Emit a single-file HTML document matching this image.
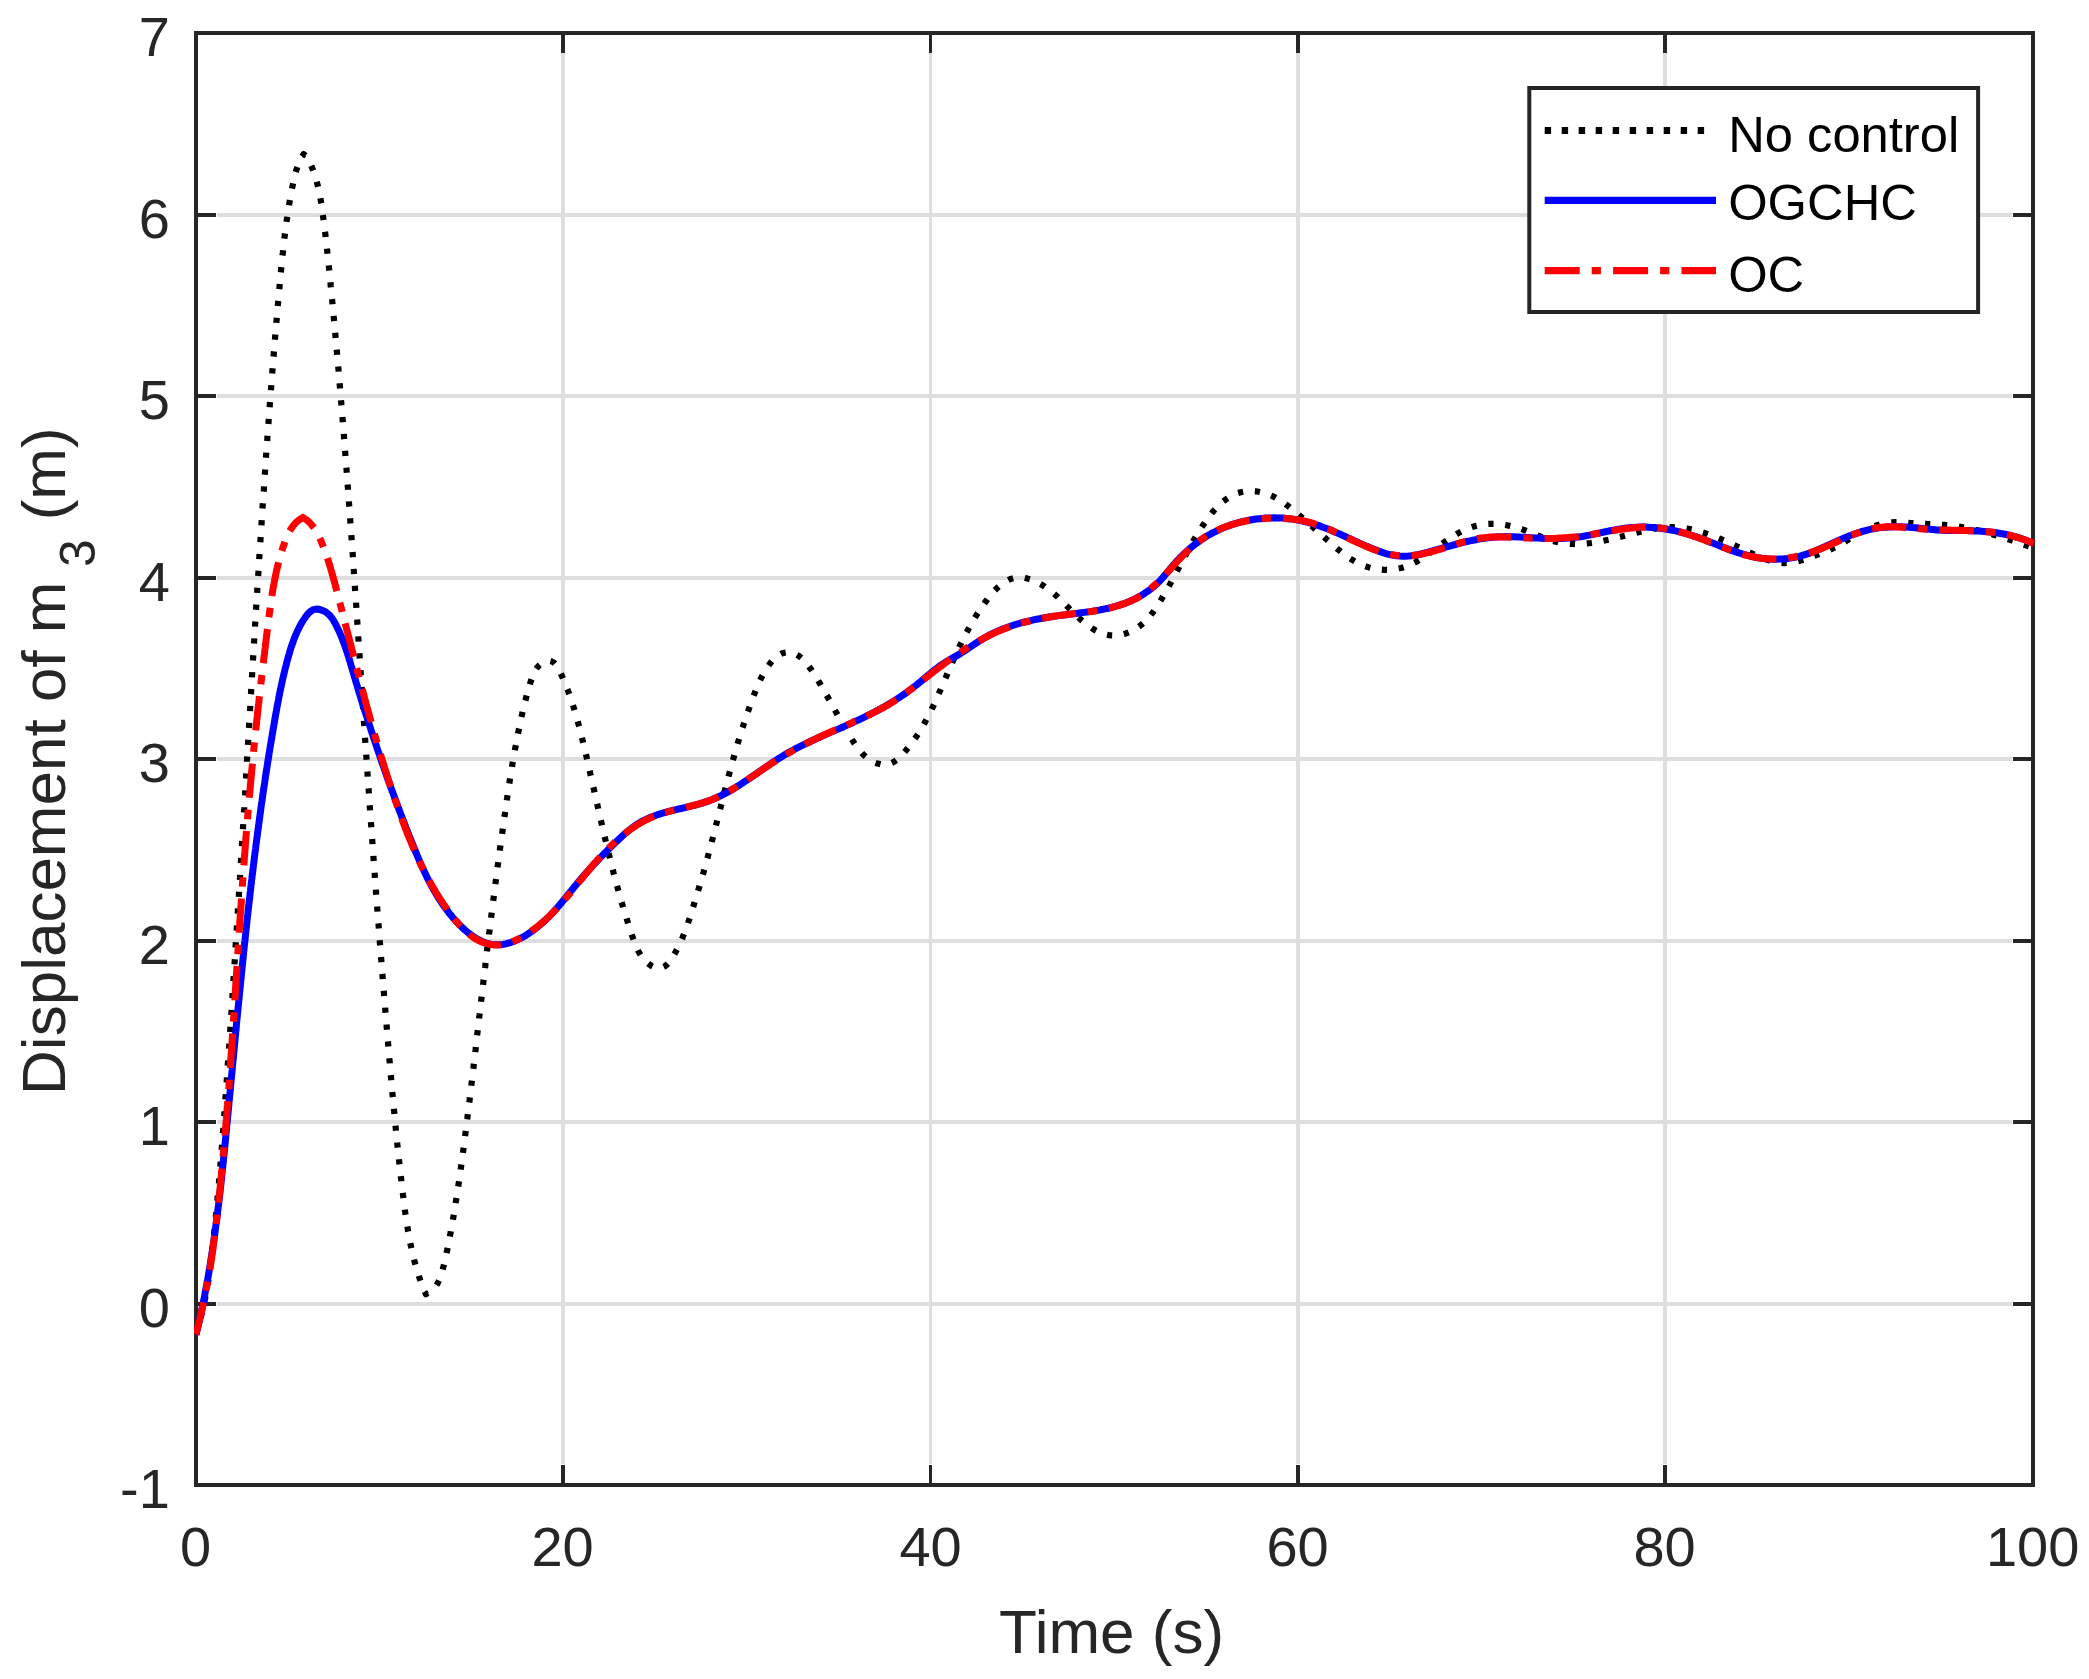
<!DOCTYPE html>
<html><head><meta charset="utf-8"><title>Displacement of m3</title>
<style>html,body{margin:0;padding:0;background:#fff}body{width:2089px;height:1679px;overflow:hidden}</style></head>
<body>
<svg width="2089" height="1679" viewBox="0 0 2089 1679" style="display:block">
<rect width="2089" height="1679" fill="#fff"/>
<defs><clipPath id="ax"><rect x="194" y="31" width="1841" height="1456"/></clipPath></defs>
<g fill="#dedede" shape-rendering="crispEdges">
<rect x="561" y="53" width="4" height="1411"/>
<rect x="929" y="53" width="3" height="1411"/>
<rect x="1296" y="53" width="4" height="1411"/>
<rect x="1663" y="53" width="4" height="1411"/>
<rect x="217" y="213" width="1795" height="4"/>
<rect x="217" y="394" width="1795" height="4"/>
<rect x="217" y="576" width="1795" height="4"/>
<rect x="217" y="757" width="1795" height="4"/>
<rect x="217" y="939" width="1795" height="4"/>
<rect x="217" y="1120" width="1795" height="4"/>
<rect x="217" y="1302" width="1795" height="4"/>
</g>
<g fill="#262626" shape-rendering="crispEdges">
<rect x="194" y="31" width="1841" height="4"/><rect x="194" y="1483" width="1841" height="4"/>
<rect x="194" y="31" width="4" height="1456"/><rect x="2031" y="31" width="4" height="1456"/>
<rect x="561" y="1465" width="4" height="18"/><rect x="561" y="35" width="4" height="18"/>
<rect x="929" y="1465" width="3" height="18"/><rect x="929" y="35" width="3" height="18"/>
<rect x="1296" y="1465" width="4" height="18"/><rect x="1296" y="35" width="4" height="18"/>
<rect x="1663" y="1465" width="4" height="18"/><rect x="1663" y="35" width="4" height="18"/>
<rect x="198" y="213" width="18" height="4"/><rect x="2013" y="213" width="18" height="4"/>
<rect x="198" y="394" width="18" height="4"/><rect x="2013" y="394" width="18" height="4"/>
<rect x="198" y="576" width="18" height="4"/><rect x="2013" y="576" width="18" height="4"/>
<rect x="198" y="757" width="18" height="4"/><rect x="2013" y="757" width="18" height="4"/>
<rect x="198" y="939" width="18" height="4"/><rect x="2013" y="939" width="18" height="4"/>
<rect x="198" y="1120" width="18" height="4"/><rect x="2013" y="1120" width="18" height="4"/>
<rect x="198" y="1302" width="18" height="4"/><rect x="2013" y="1302" width="18" height="4"/>
</g>
<g fill="#262626" font-family="'Liberation Sans', Arial, Helvetica, sans-serif" font-size="56px">
<text x="169.8" y="55.5" text-anchor="end">7</text>
<text x="169.8" y="237.5" text-anchor="end">6</text>
<text x="169.8" y="418.5" text-anchor="end">5</text>
<text x="169.8" y="600.5" text-anchor="end">4</text>
<text x="169.8" y="781.5" text-anchor="end">3</text>
<text x="169.8" y="963.5" text-anchor="end">2</text>
<text x="169.8" y="1144.5" text-anchor="end">1</text>
<text x="169.8" y="1326.5" text-anchor="end">0</text>
<text x="169.8" y="1507.5" text-anchor="end">-1</text>
<text x="195.6" y="1566" text-anchor="middle">0</text>
<text x="562.6" y="1566" text-anchor="middle">20</text>
<text x="930.6" y="1566" text-anchor="middle">40</text>
<text x="1297.6" y="1566" text-anchor="middle">60</text>
<text x="1664.6" y="1566" text-anchor="middle">80</text>
<text x="2032.6" y="1566" text-anchor="middle">100</text>
</g>
<g fill="#262626" font-family="'Liberation Sans', Arial, Helvetica, sans-serif" font-size="62px">
<text x="1111.6" y="1652.8" text-anchor="middle">Time (s)</text>
<text transform="translate(64.6,1094.9) rotate(-90)">Displacement of m</text>
<text transform="translate(94.9,567) rotate(-90)" font-size="49.6px">3</text>
<text transform="translate(64.6,520.3) rotate(-90)">(m)</text>
</g>
<g clip-path="url(#ax)" fill="none" stroke-linejoin="round">
<path d="M195.7,1334.6 L196.6,1331.7 L197.5,1328.8 L198.4,1325.9 L199.2,1323.0 L200.0,1320.1 L200.8,1317.2 L201.5,1314.3 L202.2,1311.4 L202.9,1308.4 L203.6,1305.5 L204.2,1302.6 L204.9,1299.6 L205.4,1296.7 L206.0,1293.8 L206.6,1290.8 L207.1,1287.8 L207.6,1284.9 L208.1,1281.9 L208.6,1279.0 L209.0,1276.0 L209.4,1273.0 L209.9,1270.0 L210.3,1267.1 L210.7,1264.1 L211.1,1261.1 L211.4,1258.1 L211.8,1255.1 L212.1,1252.1 L212.5,1249.2 L212.8,1246.2 L213.1,1243.2 L213.5,1240.2 L213.8,1237.2 L214.1,1234.2 L214.4,1231.2 L214.7,1228.2 L215.0,1225.2 L215.3,1222.2 L215.6,1219.2 L215.9,1216.2 L216.1,1213.2 L216.4,1210.2 L216.7,1207.2 L217.0,1204.2 L217.3,1201.2 L217.5,1198.2 L217.8,1195.2 L218.1,1192.3 L218.3,1189.3 L218.6,1186.3 L218.9,1183.3 L219.1,1180.3 L219.4,1177.3 L219.6,1174.3 L219.9,1171.3 L220.1,1168.3 L220.4,1165.3 L220.6,1162.3 L220.9,1159.3 L221.1,1156.3 L221.4,1153.3 L221.6,1150.3 L221.8,1147.3 L222.1,1144.3 L222.3,1141.3 L222.5,1138.3 L222.8,1135.3 L223.0,1132.3 L223.2,1129.3 L223.5,1126.3 L223.7,1123.3 L223.9,1120.3 L224.1,1117.3 L224.3,1114.3 L224.6,1111.3 L224.8,1108.3 L225.0,1105.3 L225.2,1102.3 L225.4,1099.3 L225.6,1096.3 L225.9,1093.3 L226.1,1090.3 L226.3,1087.3 L226.5,1084.3 L226.7,1081.3 L226.9,1078.3 L227.1,1075.3 L227.3,1072.3 L227.5,1069.3 L227.7,1066.3 L227.9,1063.3 L228.1,1060.3 L228.3,1057.3 L228.6,1054.3 L228.8,1051.3 L229.0,1048.3 L229.2,1045.3 L229.4,1042.3 L229.6,1039.3 L229.8,1036.3 L230.0,1033.3 L230.2,1030.3 L230.4,1027.3 L230.6,1024.3 L230.8,1021.3 L231.0,1018.3 L231.2,1015.3 L231.4,1012.3 L231.6,1009.3 L231.8,1006.3 L232.0,1003.3 L232.2,1000.3 L232.4,997.3 L232.6,994.3 L232.7,991.3 L232.9,988.3 L233.1,985.3 L233.3,982.3 L233.5,979.3 L233.7,976.3 L233.9,973.3 L234.1,970.3 L234.3,967.3 L234.5,964.3 L234.7,961.3 L234.9,958.3 L235.1,955.3 L235.3,952.3 L235.5,949.3 L235.6,946.3 L235.8,943.3 L236.0,940.3 L236.2,937.3 L236.4,934.3 L236.6,931.3 L236.8,928.3 L237.0,925.3 L237.2,922.3 L237.4,919.3 L237.5,916.3 L237.7,913.3 L237.9,910.3 L238.1,907.3 L238.3,904.3 L238.5,901.3 L238.7,898.3 L238.9,895.3 L239.0,892.3 L239.2,889.3 L239.4,886.2 L239.6,883.2 L239.8,880.2 L240.0,877.2 L240.1,874.2 L240.3,871.2 L240.5,868.2 L240.7,865.2 L240.9,862.2 L241.1,859.2 L241.3,856.2 L241.4,853.2 L241.6,850.2 L241.8,847.2 L242.0,844.2 L242.2,841.2 L242.4,838.2 L242.5,835.2 L242.7,832.2 L242.9,829.2 L243.1,826.2 L243.3,823.2 L243.4,820.2 L243.6,817.2 L243.8,814.2 L244.0,811.2 L244.2,808.2 L244.3,805.2 L244.5,802.2 L244.7,799.2 L244.9,796.2 L245.1,793.2 L245.2,790.2 L245.4,787.2 L245.6,784.2 L245.8,781.2 L246.0,778.2 L246.1,775.2 L246.3,772.2 L246.5,769.2 L246.7,766.2 L246.9,763.2 L247.0,760.2 L247.2,757.2 L247.4,754.2 L247.6,751.2 L247.8,748.2 L247.9,745.2 L248.1,742.2 L248.3,739.2 L248.5,736.2 L248.6,733.1 L248.8,730.1 L249.0,727.1 L249.2,724.1 L249.4,721.1 L249.5,718.1 L249.7,715.1 L249.9,712.1 L250.1,709.1 L250.3,706.1 L250.4,703.1 L250.6,700.1 L250.8,697.1 L251.0,694.1 L251.1,691.1 L251.3,688.1 L251.5,685.1 L251.7,682.1 L251.9,679.1 L252.0,676.1 L252.2,673.1 L252.4,670.1 L252.6,667.1 L252.8,664.1 L252.9,661.1 L253.1,658.1 L253.3,655.1 L253.5,652.1 L253.7,649.1 L253.8,646.1 L254.0,643.1 L254.2,640.1 L254.4,637.1 L254.6,634.1 L254.8,631.1 L254.9,628.0 L255.1,625.0 L255.3,622.0 L255.5,619.0 L255.7,616.0 L255.9,613.0 L256.0,610.0 L256.2,607.0 L256.4,604.0 L256.6,601.0 L256.8,598.0 L257.0,595.0 L257.2,592.0 L257.3,589.0 L257.5,586.0 L257.7,583.0 L257.9,580.0 L258.1,577.0 L258.3,574.0 L258.5,571.0 L258.7,568.0 L258.8,565.0 L259.0,562.0 L259.2,559.0 L259.4,556.0 L259.6,553.0 L259.8,550.0 L260.0,547.0 L260.2,544.0 L260.4,541.0 L260.6,538.0 L260.8,535.0 L261.0,532.0 L261.2,529.0 L261.4,526.0 L261.6,523.0 L261.7,520.0 L261.9,517.0 L262.1,514.0 L262.3,511.0 L262.5,508.0 L262.7,505.0 L262.9,502.0 L263.1,499.0 L263.3,496.0 L263.5,493.0 L263.8,490.0 L264.0,487.0 L264.2,484.0 L264.4,481.0 L264.6,478.0 L264.8,475.0 L265.0,472.0 L265.2,469.0 L265.4,466.0 L265.6,463.0 L265.8,460.0 L266.0,457.0 L266.2,454.0 L266.4,451.0 L266.7,448.0 L266.9,445.0 L267.1,442.0 L267.3,439.0 L267.5,436.0 L267.7,433.0 L268.0,430.0 L268.2,427.0 L268.4,424.0 L268.6,421.0 L268.8,418.0 L269.1,415.0 L269.3,412.0 L269.5,409.0 L269.7,406.0 L269.9,403.0 L270.2,400.0 L270.4,397.0 L270.6,394.0 L270.9,391.0 L271.1,388.0 L271.3,385.0 L271.5,382.1 L271.8,379.1 L272.0,376.1 L272.2,373.1 L272.5,370.1 L272.7,367.1 L273.0,364.1 L273.2,361.1 L273.4,358.1 L273.7,355.1 L273.9,352.1 L274.2,349.1 L274.4,346.1 L274.7,343.1 L274.9,340.1 L275.1,337.1 L275.4,334.1 L275.6,331.1 L275.9,328.1 L276.2,325.1 L276.4,322.1 L276.7,319.1 L276.9,316.1 L277.2,313.1 L277.4,310.1 L277.7,307.1 L278.0,304.1 L278.2,301.1 L278.5,298.1 L278.8,295.1 L279.0,292.1 L279.3,289.1 L279.6,286.1 L279.8,283.1 L280.1,280.1 L280.4,277.1 L280.7,274.1 L281.0,271.1 L281.2,268.1 L281.5,265.1 L281.8,262.1 L282.1,259.1 L282.4,256.1 L282.8,253.1 L283.1,250.1 L283.4,247.1 L283.7,244.1 L284.1,241.1 L284.4,238.1 L284.8,235.1 L285.2,232.1 L285.5,229.1 L285.9,226.2 L286.3,223.2 L286.7,220.2 L287.2,217.2 L287.6,214.3 L288.1,211.3 L288.5,208.3 L289.0,205.4 L289.5,202.4 L290.0,199.5 L290.5,196.5 L291.1,193.6 L291.6,190.6 L292.2,187.7 L292.8,184.8 L293.4,181.8 L294.0,178.9 L294.7,176.0 L295.4,173.1 L296.3,170.3 L297.2,167.5 L298.2,164.7 L299.3,162.0 L300.6,159.3 L302.0,156.7 L303.6,154.1 L306.7,156.6 L308.1,159.2 L309.5,161.9 L310.7,164.5 L311.9,167.3 L313.0,170.0 L314.0,172.8 L314.9,175.6 L315.8,178.4 L316.6,181.3 L317.4,184.1 L318.1,187.0 L318.8,190.0 L319.4,192.9 L319.9,195.8 L320.5,198.8 L321.0,201.8 L321.5,204.7 L321.9,207.7 L322.3,210.7 L322.7,213.7 L323.1,216.7 L323.5,219.7 L323.9,222.7 L324.3,225.7 L324.7,228.7 L325.0,231.7 L325.4,234.7 L325.7,237.7 L326.1,240.7 L326.4,243.7 L326.7,246.7 L327.1,249.7 L327.4,252.7 L327.7,255.7 L328.0,258.7 L328.3,261.7 L328.7,264.7 L329.0,267.7 L329.3,270.7 L329.6,273.7 L329.9,276.7 L330.2,279.7 L330.5,282.7 L330.7,285.7 L331.0,288.7 L331.3,291.7 L331.6,294.7 L331.9,297.7 L332.2,300.7 L332.5,303.7 L332.8,306.7 L333.0,309.7 L333.3,312.7 L333.6,315.7 L333.9,318.7 L334.2,321.6 L334.4,324.6 L334.7,327.6 L335.0,330.6 L335.3,333.6 L335.5,336.6 L335.8,339.6 L336.1,342.6 L336.3,345.6 L336.6,348.6 L336.9,351.6 L337.1,354.6 L337.4,357.6 L337.7,360.6 L337.9,363.6 L338.2,366.6 L338.5,369.6 L338.7,372.6 L339.0,375.6 L339.2,378.6 L339.5,381.6 L339.7,384.6 L340.0,387.6 L340.2,390.6 L340.5,393.6 L340.7,396.6 L341.0,399.6 L341.2,402.6 L341.5,405.6 L341.7,408.6 L342.0,411.6 L342.2,414.6 L342.5,417.6 L342.7,420.6 L343.0,423.6 L343.2,426.6 L343.4,429.6 L343.7,432.6 L343.9,435.6 L344.1,438.6 L344.4,441.6 L344.6,444.6 L344.8,447.6 L345.1,450.6 L345.3,453.6 L345.5,456.6 L345.8,459.6 L346.0,462.6 L346.2,465.6 L346.5,468.6 L346.7,471.6 L346.9,474.6 L347.1,477.6 L347.4,480.6 L347.6,483.6 L347.8,486.6 L348.0,489.6 L348.3,492.6 L348.5,495.6 L348.7,498.6 L348.9,501.6 L349.1,504.6 L349.4,507.6 L349.6,510.6 L349.8,513.7 L350.0,516.7 L350.2,519.7 L350.4,522.7 L350.6,525.7 L350.9,528.7 L351.1,531.7 L351.3,534.7 L351.5,537.7 L351.7,540.7 L351.9,543.7 L352.1,546.7 L352.3,549.7 L352.6,552.7 L352.8,555.7 L353.0,558.7 L353.2,561.7 L353.4,564.7 L353.6,567.7 L353.8,570.7 L354.0,573.7 L354.2,576.7 L354.4,579.7 L354.6,582.7 L354.8,585.7 L355.0,588.7 L355.2,591.7 L355.4,594.7 L355.7,597.7 L355.9,600.7 L356.1,603.7 L356.3,606.7 L356.5,609.7 L356.7,612.8 L356.9,615.8 L357.1,618.8 L357.3,621.8 L357.5,624.8 L357.7,627.8 L357.9,630.8 L358.1,633.8 L358.3,636.8 L358.5,639.8 L358.7,642.8 L358.9,645.8 L359.1,648.8 L359.3,651.8 L359.5,654.8 L359.7,657.8 L359.9,660.8 L360.1,663.8 L360.3,666.8 L360.5,669.8 L360.7,672.8 L360.9,675.8 L361.1,678.8 L361.3,681.8 L361.5,684.8 L361.7,687.8 L361.9,690.8 L362.1,693.9 L362.3,696.9 L362.5,699.9 L362.7,702.9 L362.9,705.9 L363.1,708.9 L363.3,711.9 L363.5,714.9 L363.7,717.9 L363.9,720.9 L364.1,723.9 L364.3,726.9 L364.5,729.9 L364.7,732.9 L364.9,735.9 L365.1,738.9 L365.3,741.9 L365.5,744.9 L365.7,747.9 L366.0,750.9 L366.2,753.9 L366.4,756.9 L366.6,759.9 L366.8,762.9 L367.0,765.9 L367.2,768.9 L367.4,772.0 L367.6,775.0 L367.8,778.0 L368.0,781.0 L368.2,784.0 L368.4,787.0 L368.7,790.0 L368.9,793.0 L369.1,796.0 L369.3,799.0 L369.5,802.0 L369.7,805.0 L369.9,808.0 L370.1,811.0 L370.3,814.0 L370.6,817.0 L370.8,820.0 L371.0,823.0 L371.2,826.0 L371.4,829.0 L371.6,832.0 L371.9,835.0 L372.1,838.0 L372.3,841.0 L372.5,844.0 L372.7,847.0 L372.9,850.0 L373.2,853.0 L373.4,856.0 L373.6,859.0 L373.8,862.0 L374.0,865.1 L374.3,868.1 L374.5,871.1 L374.7,874.1 L374.9,877.1 L375.1,880.1 L375.4,883.1 L375.6,886.1 L375.8,889.1 L376.0,892.1 L376.3,895.1 L376.5,898.1 L376.7,901.1 L376.9,904.1 L377.2,907.1 L377.4,910.1 L377.6,913.1 L377.9,916.1 L378.1,919.1 L378.3,922.1 L378.6,925.1 L378.8,928.1 L379.0,931.1 L379.2,934.1 L379.5,937.1 L379.7,940.1 L379.9,943.1 L380.2,946.1 L380.4,949.1 L380.6,952.1 L380.9,955.1 L381.1,958.1 L381.4,961.1 L381.6,964.1 L381.8,967.1 L382.1,970.1 L382.3,973.1 L382.6,976.1 L382.8,979.1 L383.0,982.1 L383.3,985.1 L383.5,988.1 L383.8,991.1 L384.0,994.1 L384.2,997.1 L384.5,1000.1 L384.7,1003.1 L385.0,1006.1 L385.2,1009.1 L385.5,1012.1 L385.7,1015.1 L386.0,1018.1 L386.2,1021.1 L386.5,1024.1 L386.7,1027.1 L387.0,1030.1 L387.2,1033.1 L387.5,1036.1 L387.7,1039.1 L388.0,1042.1 L388.2,1045.1 L388.5,1048.1 L388.7,1051.1 L389.0,1054.1 L389.2,1057.1 L389.5,1060.1 L389.8,1063.1 L390.0,1066.1 L390.3,1069.1 L390.5,1072.1 L390.8,1075.1 L391.1,1078.1 L391.3,1081.1 L391.6,1084.1 L391.9,1087.1 L392.1,1090.1 L392.4,1093.1 L392.7,1096.1 L393.0,1099.1 L393.2,1102.0 L393.5,1105.0 L393.8,1108.0 L394.1,1111.0 L394.4,1114.0 L394.7,1117.0 L394.9,1120.0 L395.2,1123.0 L395.5,1126.0 L395.8,1129.0 L396.1,1132.0 L396.4,1135.0 L396.7,1138.0 L397.0,1141.0 L397.3,1144.0 L397.6,1147.0 L398.0,1150.0 L398.3,1153.0 L398.6,1156.0 L398.9,1159.0 L399.2,1162.0 L399.6,1165.0 L399.9,1168.0 L400.2,1171.0 L400.6,1174.0 L400.9,1177.0 L401.3,1180.0 L401.6,1182.9 L402.0,1185.9 L402.3,1188.9 L402.7,1191.9 L403.0,1194.9 L403.4,1197.9 L403.8,1200.9 L404.2,1203.9 L404.5,1206.9 L404.9,1209.9 L405.3,1212.9 L405.8,1215.9 L406.2,1218.9 L406.6,1221.8 L407.1,1224.8 L407.6,1227.8 L408.0,1230.8 L408.6,1233.7 L409.1,1236.7 L409.6,1239.6 L410.2,1242.6 L410.8,1245.5 L411.4,1248.5 L412.1,1251.4 L412.8,1254.3 L413.5,1257.2 L414.2,1260.1 L415.0,1263.0 L415.8,1265.9 L416.6,1268.8 L417.5,1271.7 L418.4,1274.5 L419.3,1277.4 L420.3,1280.2 L421.3,1283.0 L422.4,1285.9 L423.5,1288.7 L424.7,1291.5 L425.9,1294.2 L429.1,1292.5 L431.6,1290.7 L433.8,1288.6 L435.7,1286.4 L437.3,1283.9 L438.6,1281.3 L439.8,1278.6 L440.9,1275.8 L441.8,1272.9 L442.6,1270.0 L443.3,1267.0 L444.1,1264.1 L444.8,1261.1 L445.4,1258.2 L446.1,1255.2 L446.7,1252.3 L447.4,1249.3 L448.0,1246.4 L448.6,1243.5 L449.1,1240.5 L449.7,1237.6 L450.2,1234.6 L450.8,1231.7 L451.3,1228.7 L451.9,1225.8 L452.4,1222.8 L452.9,1219.9 L453.4,1216.9 L453.9,1214.0 L454.4,1211.0 L454.9,1208.0 L455.4,1205.1 L455.8,1202.1 L456.3,1199.1 L456.8,1196.2 L457.2,1193.2 L457.7,1190.2 L458.1,1187.3 L458.6,1184.3 L459.0,1181.3 L459.4,1178.4 L459.8,1175.4 L460.3,1172.4 L460.7,1169.4 L461.1,1166.5 L461.5,1163.5 L461.9,1160.5 L462.3,1157.5 L462.7,1154.6 L463.1,1151.6 L463.5,1148.6 L463.9,1145.6 L464.3,1142.6 L464.6,1139.7 L465.0,1136.7 L465.4,1133.7 L465.8,1130.7 L466.2,1127.7 L466.5,1124.8 L466.9,1121.8 L467.3,1118.8 L467.6,1115.8 L468.0,1112.8 L468.4,1109.8 L468.7,1106.9 L469.1,1103.9 L469.5,1100.9 L469.8,1097.9 L470.2,1094.9 L470.5,1091.9 L470.9,1088.9 L471.3,1086.0 L471.6,1083.0 L472.0,1080.0 L472.3,1077.0 L472.7,1074.0 L473.0,1071.0 L473.4,1068.1 L473.7,1065.1 L474.1,1062.1 L474.4,1059.1 L474.8,1056.1 L475.1,1053.1 L475.5,1050.1 L475.8,1047.2 L476.1,1044.2 L476.5,1041.2 L476.8,1038.2 L477.2,1035.2 L477.5,1032.2 L477.9,1029.2 L478.2,1026.3 L478.6,1023.3 L478.9,1020.3 L479.2,1017.3 L479.6,1014.3 L479.9,1011.3 L480.3,1008.3 L480.6,1005.4 L481.0,1002.4 L481.3,999.4 L481.7,996.4 L482.0,993.4 L482.4,990.4 L482.7,987.5 L483.1,984.5 L483.4,981.5 L483.8,978.5 L484.1,975.5 L484.5,972.5 L484.8,969.6 L485.2,966.6 L485.5,963.6 L485.9,960.6 L486.2,957.6 L486.6,954.7 L486.9,951.7 L487.3,948.7 L487.7,945.7 L488.0,942.7 L488.4,939.8 L488.8,936.8 L489.1,933.8 L489.5,930.8 L489.9,927.8 L490.2,924.9 L490.6,921.9 L491.0,918.9 L491.3,915.9 L491.7,913.0 L492.1,910.0 L492.4,907.0 L492.8,904.0 L493.2,901.0 L493.6,898.1 L494.0,895.1 L494.3,892.1 L494.7,889.1 L495.1,886.1 L495.5,883.2 L495.9,880.2 L496.3,877.2 L496.7,874.2 L497.0,871.3 L497.4,868.3 L497.8,865.3 L498.2,862.3 L498.6,859.3 L499.0,856.4 L499.4,853.4 L499.8,850.4 L500.2,847.4 L500.6,844.4 L501.0,841.5 L501.4,838.5 L501.9,835.5 L502.3,832.5 L502.7,829.5 L503.1,826.6 L503.5,823.6 L503.9,820.6 L504.3,817.6 L504.8,814.6 L505.2,811.7 L505.6,808.7 L506.0,805.7 L506.5,802.7 L506.9,799.7 L507.3,796.8 L507.8,793.8 L508.2,790.8 L508.7,787.8 L509.1,784.8 L509.6,781.9 L510.0,778.9 L510.5,775.9 L511.0,773.0 L511.5,770.0 L512.0,767.0 L512.4,764.1 L512.9,761.1 L513.5,758.1 L514.0,755.2 L514.5,752.2 L515.0,749.3 L515.6,746.3 L516.1,743.4 L516.7,740.4 L517.2,737.5 L517.8,734.6 L518.4,731.7 L519.0,728.7 L519.6,725.8 L520.2,722.9 L520.8,720.0 L521.4,717.1 L522.1,714.2 L522.7,711.3 L523.4,708.4 L524.1,705.5 L524.8,702.6 L525.6,699.7 L526.3,696.8 L527.1,693.8 L527.9,690.9 L528.8,687.9 L529.7,684.9 L530.6,681.9 L531.6,678.9 L532.6,675.8 L533.9,672.9 L535.3,670.2 L537.1,667.6 L539.2,665.4 L541.6,663.4 L544.2,662.0 L546.9,661.1 L549.5,660.8 L551.8,661.4 L553.9,662.6 L555.7,664.5 L557.3,666.8 L558.8,669.4 L560.2,672.3 L561.5,675.1 L562.8,678.0 L564.0,680.8 L565.2,683.7 L566.3,686.6 L567.5,689.5 L568.5,692.3 L569.6,695.2 L570.6,698.1 L571.6,701.0 L572.5,703.9 L573.5,706.8 L574.4,709.7 L575.2,712.6 L576.1,715.4 L576.9,718.3 L577.7,721.2 L578.5,724.2 L579.3,727.1 L580.1,730.0 L580.8,732.9 L581.5,735.8 L582.2,738.7 L582.9,741.6 L583.6,744.5 L584.3,747.4 L585.0,750.3 L585.7,753.3 L586.4,756.2 L587.0,759.1 L587.7,762.0 L588.4,764.9 L589.0,767.9 L589.7,770.8 L590.3,773.7 L591.0,776.6 L591.7,779.5 L592.3,782.5 L593.0,785.4 L593.6,788.3 L594.3,791.2 L594.9,794.1 L595.6,797.1 L596.3,800.0 L596.9,802.9 L597.6,805.8 L598.2,808.8 L598.9,811.7 L599.6,814.6 L600.2,817.5 L600.9,820.4 L601.6,823.4 L602.2,826.3 L602.9,829.2 L603.6,832.1 L604.3,835.1 L605.0,838.0 L605.7,840.9 L606.4,843.8 L607.1,846.7 L607.8,849.7 L608.5,852.6 L609.2,855.5 L609.9,858.4 L610.7,861.3 L611.4,864.2 L612.1,867.1 L612.9,870.1 L613.6,873.0 L614.4,875.9 L615.2,878.8 L616.0,881.7 L616.7,884.6 L617.5,887.5 L618.3,890.4 L619.2,893.3 L620.0,896.2 L620.8,899.1 L621.6,902.1 L622.5,905.0 L623.3,907.9 L624.2,910.7 L625.1,913.6 L626.0,916.5 L626.9,919.4 L627.8,922.3 L628.7,925.2 L629.6,928.1 L630.6,931.0 L631.5,933.9 L632.5,936.8 L633.5,939.6 L634.5,942.5 L635.7,945.3 L636.8,948.0 L638.1,950.7 L639.6,953.3 L641.1,955.8 L642.9,958.2 L644.8,960.4 L646.9,962.5 L649.3,964.4 L651.8,966.1 L654.5,967.4 L657.2,968.1 L659.9,968.1 L662.4,967.5 L664.8,966.3 L667.0,964.5 L669.1,962.3 L671.0,959.7 L672.8,957.0 L674.4,954.1 L676.0,951.3 L677.5,948.4 L678.9,945.6 L680.2,942.8 L681.5,940.0 L682.7,937.2 L683.8,934.4 L684.9,931.6 L686.0,928.8 L687.0,926.0 L688.0,923.2 L688.9,920.4 L689.8,917.6 L690.7,914.8 L691.6,912.0 L692.5,909.1 L693.4,906.3 L694.2,903.5 L695.1,900.6 L696.0,897.8 L696.9,894.9 L697.7,892.0 L698.6,889.1 L699.5,886.3 L700.3,883.4 L701.2,880.5 L702.0,877.6 L702.8,874.7 L703.7,871.8 L704.5,868.9 L705.3,866.0 L706.1,863.1 L706.9,860.2 L707.7,857.3 L708.5,854.3 L709.2,851.4 L710.0,848.5 L710.8,845.6 L711.5,842.7 L712.3,839.8 L713.1,836.9 L713.8,834.0 L714.6,831.0 L715.3,828.1 L716.0,825.2 L716.8,822.3 L717.5,819.4 L718.3,816.5 L719.0,813.6 L719.7,810.6 L720.5,807.7 L721.2,804.8 L722.0,801.9 L722.7,799.0 L723.4,796.1 L724.2,793.2 L724.9,790.3 L725.7,787.3 L726.4,784.4 L727.2,781.5 L728.0,778.6 L728.7,775.7 L729.5,772.8 L730.3,769.9 L731.1,767.0 L731.8,764.1 L732.6,761.2 L733.4,758.4 L734.3,755.5 L735.1,752.6 L735.9,749.7 L736.7,746.8 L737.6,743.9 L738.4,741.1 L739.3,738.2 L740.2,735.3 L741.0,732.5 L741.9,729.6 L742.9,726.8 L743.8,723.9 L744.7,721.1 L745.6,718.2 L746.6,715.4 L747.6,712.5 L748.6,709.7 L749.6,706.9 L750.6,704.0 L751.6,701.2 L752.6,698.4 L753.7,695.6 L754.8,692.8 L755.9,690.0 L757.0,687.2 L758.2,684.4 L759.4,681.7 L760.7,678.9 L762.1,676.2 L763.5,673.6 L765.0,670.9 L766.7,668.3 L768.4,665.8 L770.2,663.2 L772.2,660.8 L774.3,658.6 L776.6,656.6 L779.0,654.9 L781.6,653.5 L784.3,652.7 L787.2,652.3 L790.1,652.4 L792.9,653.1 L795.7,654.1 L798.3,655.6 L800.7,657.4 L803.0,659.4 L805.1,661.7 L807.1,664.1 L809.0,666.6 L810.8,669.1 L812.5,671.6 L814.2,674.1 L815.7,676.6 L817.3,679.2 L818.8,681.7 L820.4,684.3 L821.9,686.9 L823.4,689.6 L824.9,692.2 L826.4,694.8 L827.9,697.4 L829.4,700.0 L830.8,702.6 L832.2,705.2 L833.7,707.8 L835.1,710.4 L836.5,713.0 L837.9,715.6 L839.4,718.2 L840.8,720.7 L842.3,723.3 L843.8,725.9 L845.3,728.5 L846.8,731.1 L848.3,733.7 L849.9,736.3 L851.6,738.9 L853.2,741.5 L854.9,744.1 L856.7,746.6 L858.6,749.1 L860.5,751.5 L862.5,753.8 L864.7,755.9 L867.0,757.9 L869.4,759.7 L872.0,761.2 L874.8,762.6 L877.7,763.6 L880.7,764.4 L883.7,764.7 L886.6,764.6 L889.3,764.0 L891.9,762.9 L894.4,761.6 L896.7,759.9 L899.0,758.0 L901.1,755.9 L903.2,753.6 L905.2,751.4 L907.1,749.0 L909.1,746.7 L910.9,744.3 L912.7,741.8 L914.4,739.3 L916.2,736.8 L917.8,734.3 L919.4,731.8 L921.0,729.2 L922.5,726.6 L924.0,724.0 L925.5,721.3 L926.9,718.6 L928.3,716.0 L929.7,713.3 L931.1,710.5 L932.4,707.8 L933.7,705.1 L935.0,702.3 L936.2,699.6 L937.5,696.8 L938.7,694.0 L939.9,691.3 L941.1,688.5 L942.3,685.7 L943.5,683.0 L944.6,680.2 L945.8,677.5 L947.0,674.7 L948.2,672.0 L949.3,669.2 L950.5,666.5 L951.7,663.8 L952.9,661.1 L954.1,658.4 L955.3,655.7 L956.5,653.0 L957.8,650.3 L959.0,647.6 L960.3,644.9 L961.6,642.3 L962.9,639.6 L964.2,636.9 L965.6,634.3 L967.0,631.7 L968.4,629.0 L969.8,626.4 L971.3,623.8 L972.8,621.1 L974.4,618.5 L976.0,615.9 L977.6,613.3 L979.3,610.8 L981.0,608.2 L982.8,605.6 L984.6,603.0 L986.5,600.5 L988.4,597.9 L990.3,595.5 L992.4,593.1 L994.4,590.7 L996.6,588.5 L998.8,586.5 L1001.1,584.6 L1003.4,582.8 L1005.8,581.3 L1008.3,580.0 L1010.8,578.9 L1013.4,578.1 L1016.2,577.6 L1018.9,577.4 L1021.8,577.5 L1024.7,577.9 L1027.7,578.6 L1030.7,579.5 L1033.6,580.7 L1036.5,582.0 L1039.4,583.5 L1042.1,585.0 L1044.7,586.6 L1047.2,588.4 L1049.6,590.1 L1051.9,592.0 L1054.2,593.9 L1056.4,595.8 L1058.5,597.8 L1060.7,599.8 L1062.7,601.9 L1064.8,604.0 L1066.9,606.1 L1068.9,608.2 L1071.0,610.3 L1073.2,612.4 L1075.3,614.6 L1077.5,616.7 L1079.8,618.8 L1082.2,620.9 L1084.6,622.9 L1087.0,624.8 L1089.6,626.7 L1092.2,628.4 L1094.8,630.0 L1097.5,631.4 L1100.2,632.7 L1103.0,633.7 L1105.8,634.5 L1108.7,635.1 L1111.5,635.4 L1114.4,635.5 L1117.4,635.3 L1120.3,634.9 L1123.1,634.2 L1126.0,633.4 L1128.8,632.3 L1131.5,631.1 L1134.2,629.7 L1136.8,628.1 L1139.2,626.4 L1141.6,624.6 L1143.9,622.6 L1146.0,620.5 L1148.1,618.2 L1150.1,615.9 L1151.9,613.6 L1153.8,611.1 L1155.5,608.6 L1157.2,606.0 L1158.9,603.5 L1160.5,600.8 L1162.0,598.2 L1163.6,595.6 L1165.1,593.0 L1166.6,590.4 L1168.0,587.7 L1169.5,585.1 L1170.9,582.5 L1172.3,579.9 L1173.7,577.3 L1175.1,574.6 L1176.5,572.0 L1177.9,569.4 L1179.3,566.8 L1180.6,564.1 L1182.0,561.5 L1183.4,558.9 L1184.8,556.3 L1186.2,553.7 L1187.6,551.0 L1189.1,548.4 L1190.5,545.8 L1192.0,543.2 L1193.5,540.6 L1195.0,538.0 L1196.6,535.4 L1198.1,532.9 L1199.7,530.3 L1201.4,527.7 L1203.1,525.1 L1204.8,522.6 L1206.6,520.0 L1208.4,517.5 L1210.3,515.0 L1212.2,512.6 L1214.2,510.3 L1216.2,508.0 L1218.3,505.8 L1220.5,503.7 L1222.7,501.8 L1225.1,500.0 L1227.5,498.3 L1229.9,496.7 L1232.5,495.4 L1235.1,494.2 L1237.9,493.1 L1240.7,492.3 L1243.6,491.7 L1246.6,491.3 L1249.6,491.1 L1252.7,491.1 L1255.7,491.3 L1258.7,491.7 L1261.7,492.3 L1264.6,493.0 L1267.4,494.0 L1270.1,495.1 L1272.9,496.3 L1275.5,497.7 L1278.1,499.2 L1280.7,500.8 L1283.2,502.5 L1285.7,504.3 L1288.2,506.1 L1290.6,508.0 L1292.9,509.9 L1295.3,511.9 L1297.6,513.8 L1299.9,515.8 L1302.2,517.8 L1304.4,519.7 L1306.7,521.7 L1308.9,523.6 L1311.1,525.6 L1313.3,527.5 L1315.6,529.5 L1317.8,531.5 L1320.0,533.4 L1322.2,535.4 L1324.4,537.4 L1326.6,539.4 L1328.9,541.4 L1331.1,543.4 L1333.4,545.4 L1335.7,547.4 L1338.0,549.4 L1340.4,551.3 L1342.7,553.2 L1345.2,555.0 L1347.6,556.8 L1350.1,558.5 L1352.7,560.1 L1355.2,561.6 L1357.9,563.0 L1360.6,564.3 L1363.3,565.5 L1366.1,566.5 L1369.0,567.4 L1371.9,568.2 L1374.9,568.8 L1377.9,569.3 L1381.0,569.6 L1384.0,569.8 L1387.1,569.9 L1390.1,569.7 L1393.1,569.5 L1396.1,569.1 L1399.0,568.5 L1401.9,567.8 L1404.7,566.9 L1407.5,565.9 L1410.2,564.8 L1412.8,563.5 L1415.4,562.2 L1418.0,560.7 L1420.5,559.2 L1423.0,557.6 L1425.5,555.9 L1428.0,554.2 L1430.4,552.4 L1432.9,550.6 L1435.4,548.8 L1437.8,547.0 L1440.3,545.1 L1442.8,543.3 L1445.3,541.5 L1447.8,539.8 L1450.4,538.0 L1453.0,536.4 L1455.6,534.8 L1458.2,533.2 L1460.9,531.8 L1463.6,530.4 L1466.3,529.2 L1469.0,528.1 L1471.8,527.1 L1474.6,526.2 L1477.4,525.5 L1480.3,524.9 L1483.2,524.4 L1486.1,524.1 L1489.0,523.9 L1492.0,523.9 L1494.9,523.9 L1497.9,524.1 L1500.9,524.4 L1503.8,524.8 L1506.8,525.3 L1509.8,525.9 L1512.7,526.5 L1515.7,527.3 L1518.6,528.2 L1521.6,529.1 L1524.5,530.1 L1527.3,531.2 L1530.2,532.3 L1533.1,533.4 L1535.9,534.6 L1538.7,535.8 L1541.6,536.9 L1544.4,538.0 L1547.2,539.1 L1550.1,540.0 L1552.9,540.9 L1555.8,541.7 L1558.6,542.4 L1561.5,542.9 L1564.4,543.4 L1567.3,543.7 L1570.3,543.9 L1573.2,544.0 L1576.1,544.1 L1579.1,544.0 L1582.0,543.9 L1585.0,543.6 L1587.9,543.3 L1590.9,543.0 L1593.9,542.6 L1596.9,542.1 L1599.9,541.5 L1602.8,541.0 L1605.8,540.3 L1608.8,539.7 L1611.8,539.0 L1614.8,538.3 L1617.8,537.5 L1620.7,536.8 L1623.7,536.0 L1626.7,535.2 L1629.6,534.5 L1632.6,533.7 L1635.5,533.0 L1638.5,532.2 L1641.4,531.5 L1644.3,530.8 L1647.2,530.2 L1650.1,529.6 L1653.0,529.0 L1655.9,528.5 L1658.8,528.1 L1661.7,527.7 L1664.7,527.5 L1667.6,527.3 L1670.5,527.2 L1673.5,527.2 L1676.4,527.3 L1679.4,527.6 L1682.4,527.9 L1685.3,528.3 L1688.3,528.8 L1691.3,529.4 L1694.2,530.1 L1697.1,530.8 L1700.1,531.6 L1703.0,532.5 L1705.8,533.4 L1708.7,534.4 L1711.5,535.4 L1714.3,536.5 L1717.1,537.6 L1719.8,538.7 L1722.6,539.9 L1725.3,541.1 L1728.0,542.3 L1730.8,543.5 L1733.5,544.8 L1736.2,546.1 L1738.9,547.3 L1741.6,548.6 L1744.3,549.9 L1747.1,551.2 L1749.8,552.5 L1752.6,553.8 L1755.4,555.0 L1758.2,556.3 L1761.0,557.5 L1763.8,558.6 L1766.6,559.6 L1769.5,560.5 L1772.4,561.4 L1775.2,562.0 L1778.1,562.6 L1781.1,562.9 L1784.0,563.1 L1786.9,563.0 L1789.9,562.8 L1792.8,562.4 L1795.8,561.8 L1798.7,561.1 L1801.7,560.3 L1804.6,559.4 L1807.5,558.4 L1810.4,557.3 L1813.3,556.3 L1816.2,555.2 L1819.0,554.1 L1821.8,553.0 L1824.6,551.9 L1827.3,550.8 L1830.0,549.7 L1832.7,548.4 L1835.4,547.1 L1838.0,545.7 L1840.6,544.2 L1843.2,542.7 L1845.8,541.2 L1848.4,539.6 L1850.9,538.0 L1853.5,536.4 L1856.1,534.9 L1858.8,533.3 L1861.4,531.9 L1864.1,530.5 L1866.8,529.2 L1869.6,528.0 L1872.3,526.9 L1875.2,525.9 L1878.0,525.0 L1880.8,524.2 L1883.7,523.5 L1886.7,522.9 L1889.6,522.5 L1892.5,522.3 L1895.5,522.1 L1898.5,522.1 L1901.5,522.3 L1904.6,522.5 L1907.6,522.7 L1910.6,523.0 L1913.7,523.2 L1916.7,523.5 L1919.7,523.6 L1922.7,523.8 L1925.7,523.9 L1928.7,524.1 L1931.8,524.2 L1934.8,524.3 L1937.8,524.5 L1940.7,524.7 L1943.7,524.9 L1946.7,525.1 L1949.7,525.4 L1952.7,525.8 L1955.6,526.2 L1958.6,526.6 L1961.5,527.1 L1964.5,527.6 L1967.4,528.2 L1970.4,528.8 L1973.3,529.4 L1976.2,530.1 L1979.2,530.8 L1982.1,531.5 L1985.0,532.2 L1987.9,533.0 L1990.8,533.8 L1993.7,534.7 L1996.6,535.5 L1999.5,536.4 L2002.3,537.3 L2005.2,538.2 L2008.1,539.2 L2010.9,540.1 L2013.8,541.1 L2016.6,542.0 L2019.5,543.0 L2022.3,544.0 L2025.1,545.0 L2028.0,546.0 L2030.8,547.0 L2033.6,548.0" stroke="#000" stroke-width="6.2" stroke-dasharray="5.2 11.72" stroke-dashoffset="16.28"/>
<path d="M196.1,1334.6 L196.8,1331.7 L197.5,1328.8 L198.2,1325.9 L198.9,1322.9 L199.5,1320.0 L200.2,1317.0 L200.8,1314.1 L201.5,1311.2 L202.1,1308.2 L202.7,1305.3 L203.3,1302.3 L203.9,1299.4 L204.5,1296.4 L205.0,1293.5 L205.6,1290.5 L206.1,1287.6 L206.7,1284.6 L207.2,1281.7 L207.8,1278.7 L208.3,1275.8 L208.8,1272.8 L209.3,1269.8 L209.8,1266.9 L210.3,1263.9 L210.7,1260.9 L211.2,1258.0 L211.7,1255.0 L212.1,1252.0 L212.6,1249.1 L213.0,1246.1 L213.5,1243.1 L213.9,1240.2 L214.3,1237.2 L214.7,1234.2 L215.1,1231.2 L215.5,1228.3 L215.9,1225.3 L216.3,1222.3 L216.7,1219.3 L217.1,1216.4 L217.5,1213.4 L217.8,1210.4 L218.2,1207.4 L218.6,1204.4 L218.9,1201.4 L219.3,1198.5 L219.6,1195.5 L220.0,1192.5 L220.3,1189.5 L220.6,1186.5 L221.0,1183.5 L221.3,1180.5 L221.6,1177.6 L221.9,1174.6 L222.2,1171.6 L222.6,1168.6 L222.9,1165.6 L223.2,1162.6 L223.5,1159.6 L223.8,1156.6 L224.1,1153.6 L224.4,1150.6 L224.7,1147.7 L225.0,1144.7 L225.3,1141.7 L225.6,1138.7 L225.9,1135.7 L226.2,1132.7 L226.5,1129.7 L226.7,1126.7 L227.0,1123.7 L227.3,1120.7 L227.6,1117.7 L227.9,1114.7 L228.2,1111.7 L228.5,1108.7 L228.8,1105.7 L229.0,1102.8 L229.3,1099.8 L229.6,1096.8 L229.9,1093.8 L230.2,1090.8 L230.5,1087.8 L230.7,1084.8 L231.0,1081.8 L231.3,1078.8 L231.6,1075.8 L231.9,1072.8 L232.2,1069.8 L232.4,1066.8 L232.7,1063.8 L233.0,1060.8 L233.3,1057.8 L233.6,1054.8 L233.9,1051.9 L234.2,1048.9 L234.4,1045.9 L234.7,1042.9 L235.0,1039.9 L235.3,1036.9 L235.6,1033.9 L235.9,1030.9 L236.2,1027.9 L236.4,1024.9 L236.7,1021.9 L237.0,1018.9 L237.3,1015.9 L237.6,1012.9 L237.9,1009.9 L238.2,1007.0 L238.5,1004.0 L238.8,1001.0 L239.1,998.0 L239.4,995.0 L239.7,992.0 L240.0,989.0 L240.3,986.0 L240.6,983.0 L240.9,980.0 L241.2,977.0 L241.5,974.0 L241.8,971.0 L242.1,968.1 L242.4,965.1 L242.7,962.1 L243.0,959.1 L243.3,956.1 L243.6,953.1 L243.9,950.1 L244.2,947.1 L244.5,944.1 L244.9,941.1 L245.2,938.2 L245.5,935.2 L245.8,932.2 L246.1,929.2 L246.5,926.2 L246.8,923.2 L247.1,920.2 L247.4,917.2 L247.8,914.2 L248.1,911.3 L248.4,908.3 L248.8,905.3 L249.1,902.3 L249.5,899.3 L249.8,896.3 L250.1,893.3 L250.5,890.4 L250.8,887.4 L251.2,884.4 L251.5,881.4 L251.9,878.4 L252.2,875.4 L252.6,872.5 L253.0,869.5 L253.3,866.5 L253.7,863.5 L254.1,860.5 L254.4,857.5 L254.8,854.6 L255.2,851.6 L255.6,848.6 L255.9,845.6 L256.3,842.6 L256.7,839.7 L257.1,836.7 L257.5,833.7 L257.9,830.7 L258.3,827.7 L258.7,824.8 L259.1,821.8 L259.5,818.8 L259.9,815.8 L260.3,812.9 L260.7,809.9 L261.1,806.9 L261.5,803.9 L262.0,801.0 L262.4,798.0 L262.8,795.0 L263.2,792.0 L263.7,789.1 L264.1,786.1 L264.6,783.1 L265.0,780.2 L265.4,777.2 L265.9,774.2 L266.3,771.2 L266.8,768.3 L267.3,765.3 L267.7,762.3 L268.2,759.4 L268.7,756.4 L269.1,753.4 L269.6,750.5 L270.1,747.5 L270.6,744.5 L271.1,741.6 L271.6,738.6 L272.1,735.6 L272.6,732.7 L273.1,729.7 L273.6,726.8 L274.1,723.8 L274.6,720.8 L275.1,717.9 L275.6,714.9 L276.2,712.0 L276.7,709.0 L277.2,706.0 L277.8,703.1 L278.4,700.1 L278.9,697.2 L279.5,694.2 L280.1,691.3 L280.7,688.3 L281.4,685.4 L282.0,682.5 L282.6,679.5 L283.3,676.6 L284.0,673.6 L284.7,670.7 L285.4,667.8 L286.2,664.9 L286.9,661.9 L287.7,659.0 L288.5,656.1 L289.4,653.2 L290.2,650.3 L291.1,647.4 L292.1,644.5 L293.1,641.7 L294.1,638.9 L295.2,636.1 L296.4,633.3 L297.6,630.6 L299.0,627.9 L300.4,625.2 L301.8,622.6 L303.4,620.1 L305.1,617.6 L306.9,615.1 L308.8,612.9 L311.0,611.0 L313.4,609.7 L316.1,609.1 L319.2,609.3 L322.3,610.3 L325.2,611.7 L327.7,613.5 L329.9,615.6 L331.8,617.9 L333.5,620.4 L335.0,623.0 L336.4,625.7 L337.7,628.4 L339.0,631.1 L340.2,633.9 L341.4,636.7 L342.5,639.5 L343.5,642.3 L344.6,645.1 L345.6,648.0 L346.5,650.8 L347.5,653.7 L348.4,656.5 L349.3,659.4 L350.2,662.3 L351.0,665.2 L351.9,668.0 L352.7,670.9 L353.6,673.8 L354.4,676.7 L355.3,679.6 L356.1,682.5 L357.0,685.3 L357.8,688.2 L358.7,691.1 L359.6,693.9 L360.5,696.8 L361.3,699.7 L362.2,702.5 L363.1,705.4 L364.0,708.2 L364.9,711.1 L365.9,714.0 L366.8,716.8 L367.7,719.7 L368.6,722.5 L369.6,725.4 L370.5,728.2 L371.4,731.1 L372.4,733.9 L373.3,736.8 L374.3,739.7 L375.2,742.5 L376.2,745.4 L377.1,748.2 L378.1,751.1 L379.1,753.9 L380.1,756.8 L381.0,759.6 L382.0,762.5 L383.0,765.3 L384.0,768.2 L385.0,771.0 L386.0,773.9 L387.0,776.7 L388.0,779.6 L389.1,782.4 L390.1,785.2 L391.1,788.1 L392.1,790.9 L393.2,793.7 L394.2,796.6 L395.3,799.4 L396.3,802.2 L397.4,805.0 L398.4,807.9 L399.5,810.7 L400.5,813.5 L401.6,816.3 L402.7,819.1 L403.8,821.9 L404.9,824.7 L405.9,827.5 L407.0,830.3 L408.1,833.1 L409.2,835.9 L410.4,838.7 L411.5,841.4 L412.6,844.2 L413.7,847.0 L414.8,849.7 L416.0,852.5 L417.1,855.2 L418.3,858.0 L419.4,860.7 L420.6,863.5 L421.8,866.2 L423.1,868.9 L424.3,871.6 L425.6,874.3 L426.9,877.0 L428.2,879.6 L429.6,882.3 L431.0,884.9 L432.4,887.5 L433.9,890.2 L435.4,892.7 L436.9,895.3 L438.5,897.9 L440.1,900.4 L441.8,903.0 L443.5,905.5 L445.3,908.0 L447.2,910.4 L449.0,912.9 L451.0,915.3 L453.0,917.7 L455.1,920.1 L457.2,922.4 L459.4,924.7 L461.6,926.9 L463.9,929.1 L466.2,931.1 L468.6,933.1 L471.0,934.9 L473.5,936.6 L476.0,938.2 L478.5,939.7 L481.1,941.0 L483.7,942.1 L486.4,943.0 L489.0,943.8 L491.8,944.4 L494.5,944.7 L497.3,944.8 L500.1,944.7 L502.9,944.4 L505.7,943.9 L508.5,943.2 L511.3,942.3 L514.1,941.3 L516.9,940.1 L519.7,938.7 L522.5,937.3 L525.2,935.7 L527.9,934.0 L530.6,932.2 L533.2,930.3 L535.7,928.4 L538.2,926.4 L540.7,924.3 L543.1,922.2 L545.4,920.1 L547.6,918.0 L549.7,915.8 L551.8,913.6 L553.9,911.4 L555.9,909.2 L557.8,907.0 L559.8,904.8 L561.6,902.5 L563.5,900.3 L565.4,898.0 L567.2,895.8 L569.0,893.5 L570.8,891.2 L572.7,888.9 L574.5,886.7 L576.4,884.4 L578.3,882.1 L580.2,879.9 L582.1,877.6 L584.0,875.4 L586.0,873.1 L588.0,870.9 L590.0,868.7 L592.1,866.4 L594.1,864.2 L596.2,862.0 L598.3,859.8 L600.4,857.6 L602.5,855.4 L604.6,853.2 L606.8,851.1 L608.9,848.9 L611.1,846.8 L613.3,844.6 L615.5,842.5 L617.7,840.4 L619.9,838.3 L622.2,836.2 L624.4,834.2 L626.7,832.2 L629.0,830.3 L631.4,828.4 L633.8,826.6 L636.2,824.9 L638.7,823.3 L641.2,821.8 L643.8,820.4 L646.5,819.1 L649.2,817.8 L651.9,816.7 L654.7,815.7 L657.5,814.7 L660.4,813.8 L663.3,812.9 L666.2,812.1 L669.1,811.3 L672.1,810.6 L675.0,809.9 L678.0,809.2 L681.0,808.5 L684.0,807.8 L686.9,807.1 L689.9,806.4 L692.9,805.7 L695.8,804.9 L698.7,804.1 L701.6,803.3 L704.5,802.4 L707.3,801.4 L710.2,800.4 L712.9,799.2 L715.7,798.1 L718.4,796.8 L721.1,795.6 L723.7,794.2 L726.4,792.8 L729.0,791.4 L731.6,789.9 L734.1,788.4 L736.7,786.8 L739.2,785.2 L741.7,783.6 L744.2,781.9 L746.7,780.3 L749.2,778.6 L751.7,776.9 L754.2,775.2 L756.7,773.5 L759.2,771.7 L761.6,770.0 L764.1,768.3 L766.6,766.6 L769.1,764.9 L771.6,763.2 L774.1,761.5 L776.6,759.9 L779.1,758.3 L781.7,756.7 L784.3,755.1 L786.8,753.6 L789.4,752.1 L792.1,750.7 L794.7,749.2 L797.3,747.8 L800.0,746.5 L802.7,745.1 L805.4,743.8 L808.1,742.5 L810.8,741.2 L813.5,740.0 L816.3,738.7 L819.0,737.5 L821.7,736.3 L824.5,735.1 L827.2,733.8 L830.0,732.6 L832.8,731.4 L835.5,730.3 L838.3,729.1 L841.0,727.8 L843.8,726.6 L846.5,725.4 L849.3,724.2 L852.0,723.0 L854.7,721.7 L857.5,720.4 L860.2,719.2 L862.9,717.9 L865.6,716.5 L868.3,715.2 L871.0,713.9 L873.6,712.5 L876.3,711.1 L878.9,709.7 L881.5,708.2 L884.2,706.8 L886.8,705.3 L889.3,703.7 L891.9,702.2 L894.4,700.6 L897.0,699.0 L899.5,697.4 L902.0,695.7 L904.5,694.0 L906.9,692.3 L909.3,690.5 L911.8,688.7 L914.1,686.8 L916.5,685.0 L918.9,683.0 L921.2,681.1 L923.5,679.1 L925.8,677.2 L928.1,675.2 L930.5,673.3 L932.8,671.4 L935.1,669.5 L937.5,667.7 L939.9,665.9 L942.4,664.2 L944.9,662.6 L947.4,661.1 L949.9,659.6 L952.5,658.1 L955.1,656.6 L957.7,655.1 L960.3,653.6 L962.8,651.9 L965.4,650.3 L967.9,648.6 L970.5,646.9 L973.0,645.2 L975.5,643.5 L978.1,641.8 L980.7,640.1 L983.3,638.6 L985.9,637.0 L988.5,635.6 L991.2,634.2 L993.9,632.9 L996.6,631.6 L999.3,630.4 L1002.1,629.3 L1004.9,628.2 L1007.6,627.2 L1010.5,626.2 L1013.3,625.2 L1016.1,624.4 L1019.0,623.5 L1021.9,622.7 L1024.7,622.0 L1027.6,621.3 L1030.6,620.6 L1033.5,619.9 L1036.4,619.3 L1039.4,618.8 L1042.3,618.2 L1045.3,617.7 L1048.2,617.2 L1051.2,616.7 L1054.2,616.3 L1057.2,615.9 L1060.2,615.5 L1063.2,615.1 L1066.2,614.7 L1069.2,614.3 L1072.2,613.9 L1075.2,613.6 L1078.2,613.2 L1081.2,612.8 L1084.2,612.4 L1087.2,612.0 L1090.2,611.6 L1093.2,611.1 L1096.1,610.6 L1099.1,610.1 L1102.0,609.5 L1104.9,608.9 L1107.9,608.3 L1110.8,607.6 L1113.6,606.8 L1116.5,606.0 L1119.4,605.1 L1122.2,604.2 L1125.0,603.2 L1127.8,602.1 L1130.5,600.9 L1133.3,599.7 L1136.0,598.3 L1138.6,596.9 L1141.2,595.5 L1143.8,593.9 L1146.3,592.2 L1148.8,590.5 L1151.2,588.7 L1153.5,586.8 L1155.8,584.8 L1158.0,582.7 L1160.1,580.6 L1162.1,578.4 L1164.1,576.1 L1166.1,573.8 L1168.0,571.5 L1169.9,569.1 L1171.9,566.8 L1173.8,564.5 L1175.8,562.2 L1177.9,560.0 L1179.9,557.8 L1182.1,555.7 L1184.2,553.6 L1186.4,551.6 L1188.6,549.6 L1190.9,547.6 L1193.2,545.7 L1195.6,543.9 L1198.0,542.1 L1200.4,540.4 L1202.9,538.7 L1205.4,537.1 L1207.9,535.6 L1210.5,534.1 L1213.1,532.6 L1215.8,531.3 L1218.5,530.0 L1221.2,528.7 L1224.0,527.6 L1226.8,526.5 L1229.6,525.4 L1232.5,524.4 L1235.4,523.5 L1238.3,522.7 L1241.2,521.9 L1244.2,521.2 L1247.1,520.6 L1250.1,520.0 L1253.1,519.5 L1256.1,519.0 L1259.1,518.7 L1262.1,518.4 L1265.2,518.1 L1268.2,518.0 L1271.2,517.9 L1274.2,517.8 L1277.3,517.9 L1280.3,518.0 L1283.3,518.1 L1286.3,518.4 L1289.3,518.7 L1292.2,519.1 L1295.2,519.5 L1298.1,520.0 L1301.0,520.6 L1303.9,521.3 L1306.8,522.0 L1309.7,522.8 L1312.5,523.6 L1315.3,524.5 L1318.2,525.4 L1321.0,526.4 L1323.7,527.5 L1326.5,528.5 L1329.3,529.6 L1332.1,530.8 L1334.8,531.9 L1337.6,533.1 L1340.3,534.3 L1343.1,535.6 L1345.8,536.8 L1348.6,538.1 L1351.3,539.3 L1354.1,540.6 L1356.9,541.9 L1359.6,543.1 L1362.4,544.4 L1365.2,545.6 L1368.0,546.8 L1370.8,548.0 L1373.7,549.2 L1376.5,550.3 L1379.3,551.4 L1382.2,552.4 L1385.1,553.3 L1387.9,554.1 L1390.8,554.8 L1393.7,555.3 L1396.6,555.8 L1399.6,556.1 L1402.5,556.3 L1405.4,556.2 L1408.3,556.1 L1411.3,555.8 L1414.2,555.3 L1417.2,554.8 L1420.2,554.1 L1423.1,553.4 L1426.1,552.6 L1429.0,551.9 L1432.0,551.0 L1434.9,550.2 L1437.8,549.4 L1440.8,548.5 L1443.7,547.7 L1446.6,546.9 L1449.5,546.1 L1452.4,545.3 L1455.4,544.5 L1458.3,543.7 L1461.2,543.0 L1464.1,542.2 L1467.0,541.5 L1470.0,540.9 L1472.9,540.3 L1475.8,539.7 L1478.7,539.1 L1481.7,538.6 L1484.6,538.2 L1487.6,537.8 L1490.5,537.5 L1493.5,537.2 L1496.4,537.0 L1499.4,536.8 L1502.4,536.7 L1505.4,536.7 L1508.3,536.7 L1511.3,536.7 L1514.3,536.8 L1517.3,536.9 L1520.3,537.1 L1523.4,537.2 L1526.4,537.4 L1529.4,537.6 L1532.4,537.7 L1535.4,537.9 L1538.4,538.1 L1541.5,538.3 L1544.5,538.4 L1547.5,538.5 L1550.5,538.6 L1553.5,538.6 L1556.5,538.6 L1559.5,538.6 L1562.5,538.5 L1565.5,538.3 L1568.5,538.1 L1571.5,537.8 L1574.5,537.5 L1577.5,537.1 L1580.5,536.7 L1583.5,536.2 L1586.4,535.6 L1589.4,535.1 L1592.4,534.5 L1595.3,533.9 L1598.3,533.3 L1601.3,532.6 L1604.2,532.0 L1607.2,531.4 L1610.1,530.8 L1613.1,530.2 L1616.1,529.7 L1619.0,529.2 L1622.0,528.7 L1625.0,528.3 L1627.9,527.9 L1630.9,527.6 L1633.9,527.4 L1636.9,527.2 L1639.8,527.1 L1642.8,527.1 L1645.8,527.1 L1648.8,527.2 L1651.8,527.4 L1654.8,527.6 L1657.8,527.9 L1660.7,528.3 L1663.7,528.7 L1666.7,529.2 L1669.6,529.7 L1672.6,530.3 L1675.5,530.9 L1678.5,531.6 L1681.4,532.4 L1684.3,533.2 L1687.2,534.0 L1690.1,534.9 L1693.0,535.8 L1695.8,536.7 L1698.7,537.7 L1701.5,538.8 L1704.4,539.8 L1707.2,540.9 L1710.0,542.0 L1712.8,543.1 L1715.6,544.2 L1718.4,545.3 L1721.2,546.4 L1724.0,547.5 L1726.8,548.6 L1729.6,549.6 L1732.4,550.7 L1735.3,551.7 L1738.1,552.6 L1740.9,553.5 L1743.8,554.4 L1746.7,555.2 L1749.6,555.9 L1752.5,556.6 L1755.4,557.2 L1758.3,557.8 L1761.3,558.2 L1764.3,558.6 L1767.3,558.9 L1770.3,559.1 L1773.4,559.2 L1776.4,559.2 L1779.4,559.1 L1782.4,559.0 L1785.4,558.7 L1788.4,558.4 L1791.4,557.9 L1794.4,557.4 L1797.3,556.8 L1800.2,556.1 L1803.1,555.2 L1805.9,554.3 L1808.8,553.4 L1811.6,552.3 L1814.4,551.2 L1817.1,550.1 L1819.9,548.9 L1822.6,547.6 L1825.4,546.4 L1828.1,545.1 L1830.9,543.9 L1833.6,542.6 L1836.4,541.4 L1839.1,540.1 L1841.9,538.9 L1844.7,537.8 L1847.5,536.6 L1850.3,535.5 L1853.1,534.5 L1855.9,533.5 L1858.8,532.6 L1861.6,531.7 L1864.5,530.8 L1867.4,530.1 L1870.3,529.4 L1873.3,528.8 L1876.2,528.3 L1879.2,527.8 L1882.2,527.5 L1885.2,527.2 L1888.2,527.0 L1891.2,526.9 L1894.2,526.8 L1897.2,526.8 L1900.2,526.8 L1903.2,527.0 L1906.3,527.1 L1909.3,527.3 L1912.3,527.6 L1915.2,527.8 L1918.2,528.1 L1921.2,528.4 L1924.2,528.7 L1927.2,529.1 L1930.2,529.3 L1933.2,529.6 L1936.2,529.9 L1939.2,530.1 L1942.2,530.2 L1945.2,530.4 L1948.2,530.4 L1951.2,530.5 L1954.2,530.5 L1957.2,530.5 L1960.2,530.5 L1963.2,530.6 L1966.2,530.6 L1969.2,530.7 L1972.2,530.7 L1975.3,530.9 L1978.3,531.0 L1981.3,531.2 L1984.3,531.4 L1987.3,531.7 L1990.3,532.0 L1993.2,532.3 L1996.2,532.7 L1999.2,533.2 L2002.1,533.7 L2005.1,534.3 L2008.0,534.9 L2010.9,535.6 L2013.8,536.3 L2016.7,537.1 L2019.6,538.0 L2022.4,539.0 L2025.2,540.0 L2028.1,541.2 L2030.8,542.4 L2033.6,543.7" stroke="#0000ff" stroke-width="7"/>
<path d="M195.7,1334.5 L196.5,1331.6 L197.3,1328.7 L198.1,1325.8 L198.8,1322.9 L199.6,1319.9 L200.3,1317.0 L201.0,1314.1 L201.7,1311.1 L202.3,1308.2 L203.0,1305.2 L203.6,1302.3 L204.2,1299.3 L204.9,1296.4 L205.5,1293.4 L206.0,1290.4 L206.6,1287.5 L207.2,1284.5 L207.7,1281.6 L208.2,1278.6 L208.8,1275.6 L209.3,1272.6 L209.8,1269.7 L210.2,1266.7 L210.7,1263.7 L211.2,1260.7 L211.6,1257.7 L212.1,1254.7 L212.5,1251.8 L212.9,1248.8 L213.3,1245.8 L213.7,1242.8 L214.1,1239.8 L214.5,1236.8 L214.9,1233.8 L215.3,1230.8 L215.7,1227.8 L216.0,1224.8 L216.4,1221.8 L216.7,1218.8 L217.1,1215.8 L217.4,1212.8 L217.7,1209.8 L218.1,1206.8 L218.4,1203.8 L218.7,1200.8 L219.0,1197.8 L219.4,1194.8 L219.7,1191.8 L220.0,1188.8 L220.3,1185.8 L220.6,1182.7 L220.9,1179.7 L221.2,1176.7 L221.5,1173.7 L221.8,1170.7 L222.0,1167.7 L222.3,1164.7 L222.6,1161.7 L222.9,1158.7 L223.2,1155.7 L223.4,1152.7 L223.7,1149.7 L224.0,1146.7 L224.2,1143.7 L224.5,1140.7 L224.8,1137.6 L225.0,1134.6 L225.3,1131.6 L225.5,1128.6 L225.8,1125.6 L226.0,1122.6 L226.3,1119.6 L226.5,1116.6 L226.8,1113.6 L227.0,1110.6 L227.2,1107.6 L227.5,1104.6 L227.7,1101.5 L228.0,1098.5 L228.2,1095.5 L228.4,1092.5 L228.6,1089.5 L228.9,1086.5 L229.1,1083.5 L229.3,1080.5 L229.5,1077.5 L229.7,1074.5 L230.0,1071.5 L230.2,1068.4 L230.4,1065.4 L230.6,1062.4 L230.8,1059.4 L231.0,1056.4 L231.2,1053.4 L231.5,1050.4 L231.7,1047.4 L231.9,1044.4 L232.1,1041.3 L232.3,1038.3 L232.5,1035.3 L232.7,1032.3 L232.9,1029.3 L233.1,1026.3 L233.3,1023.3 L233.5,1020.3 L233.7,1017.3 L233.9,1014.2 L234.1,1011.2 L234.3,1008.2 L234.5,1005.2 L234.7,1002.2 L234.9,999.2 L235.1,996.2 L235.3,993.2 L235.4,990.1 L235.6,987.1 L235.8,984.1 L236.0,981.1 L236.2,978.1 L236.4,975.1 L236.6,972.1 L236.8,969.1 L237.0,966.0 L237.2,963.0 L237.4,960.0 L237.6,957.0 L237.8,954.0 L238.0,951.0 L238.2,948.0 L238.4,944.9 L238.6,941.9 L238.8,938.9 L238.9,935.9 L239.1,932.9 L239.3,929.9 L239.5,926.9 L239.7,923.9 L239.9,920.8 L240.1,917.8 L240.3,914.8 L240.6,911.8 L240.8,908.8 L241.0,905.8 L241.2,902.8 L241.4,899.7 L241.6,896.7 L241.8,893.7 L242.0,890.7 L242.2,887.7 L242.4,884.7 L242.6,881.7 L242.9,878.6 L243.1,875.6 L243.3,872.6 L243.5,869.6 L243.7,866.6 L244.0,863.6 L244.2,860.6 L244.4,857.6 L244.6,854.5 L244.9,851.5 L245.1,848.5 L245.3,845.5 L245.6,842.5 L245.8,839.5 L246.0,836.5 L246.3,833.4 L246.5,830.4 L246.8,827.4 L247.0,824.4 L247.3,821.4 L247.5,818.4 L247.8,815.4 L248.0,812.4 L248.3,809.3 L248.5,806.3 L248.8,803.3 L249.1,800.3 L249.3,797.3 L249.6,794.3 L249.9,791.3 L250.1,788.3 L250.4,785.3 L250.7,782.2 L251.0,779.2 L251.2,776.2 L251.5,773.2 L251.8,770.2 L252.1,767.2 L252.4,764.2 L252.7,761.2 L253.0,758.2 L253.2,755.2 L253.5,752.2 L253.8,749.2 L254.1,746.2 L254.4,743.2 L254.7,740.2 L255.1,737.2 L255.4,734.2 L255.7,731.2 L256.0,728.2 L256.3,725.2 L256.6,722.2 L256.9,719.2 L257.3,716.2 L257.6,713.2 L257.9,710.2 L258.2,707.2 L258.6,704.2 L258.9,701.3 L259.2,698.3 L259.6,695.3 L259.9,692.3 L260.2,689.3 L260.6,686.3 L260.9,683.3 L261.3,680.3 L261.6,677.3 L262.0,674.3 L262.3,671.4 L262.7,668.4 L263.0,665.4 L263.4,662.4 L263.7,659.4 L264.1,656.4 L264.5,653.4 L264.8,650.4 L265.2,647.4 L265.5,644.4 L265.9,641.4 L266.3,638.4 L266.7,635.3 L267.0,632.3 L267.4,629.3 L267.8,626.3 L268.1,623.3 L268.5,620.3 L268.9,617.2 L269.3,614.2 L269.7,611.2 L270.1,608.2 L270.5,605.2 L270.9,602.2 L271.4,599.1 L271.8,596.1 L272.3,593.1 L272.8,590.1 L273.3,587.1 L273.9,584.1 L274.4,581.2 L275.0,578.2 L275.6,575.2 L276.2,572.3 L276.9,569.3 L277.6,566.4 L278.3,563.5 L279.1,560.6 L279.8,557.7 L280.7,554.8 L281.5,551.9 L282.4,549.0 L283.4,546.2 L284.4,543.4 L285.4,540.6 L286.5,537.8 L287.7,535.1 L289.0,532.4 L290.4,529.9 L292.0,527.5 L293.7,525.1 L295.6,523.0 L297.8,521.0 L300.2,519.1 L302.8,517.5 L306.2,519.6 L308.5,521.5 L310.6,523.6 L312.5,525.9 L314.3,528.2 L315.9,530.7 L317.3,533.3 L318.7,535.9 L320.0,538.6 L321.2,541.4 L322.3,544.2 L323.4,547.0 L324.5,549.8 L325.5,552.6 L326.5,555.5 L327.5,558.3 L328.4,561.2 L329.3,564.1 L330.2,566.9 L331.0,569.8 L331.9,572.7 L332.7,575.6 L333.5,578.6 L334.3,581.5 L335.1,584.4 L335.8,587.3 L336.6,590.2 L337.4,593.1 L338.1,596.1 L338.9,599.0 L339.6,601.9 L340.4,604.8 L341.1,607.7 L341.9,610.6 L342.7,613.5 L343.4,616.5 L344.2,619.4 L344.9,622.3 L345.6,625.2 L346.4,628.1 L347.1,631.0 L347.9,633.9 L348.6,636.8 L349.4,639.7 L350.1,642.6 L350.9,645.5 L351.6,648.4 L352.4,651.4 L353.1,654.3 L353.9,657.2 L354.6,660.1 L355.4,663.0 L356.1,665.9 L356.9,668.8 L357.6,671.7 L358.4,674.6 L359.2,677.5 L359.9,680.4 L360.7,683.3 L361.5,686.2 L362.2,689.1 L363.0,692.0 L363.8,694.9 L364.5,697.9 L365.3,700.8 L366.1,703.7 L366.9,706.6 L367.7,709.5 L368.5,712.4 L369.3,715.3 L370.1,718.2 L370.9,721.1 L371.7,724.0 L372.5,726.9 L373.3,729.8 L374.2,732.7 L375.0,735.6 L375.8,738.5 L376.7,741.4 L377.5,744.2 L378.4,747.1 L379.2,750.0 L380.1,752.9 L380.9,755.8 L381.8,758.7 L382.7,761.5 L383.6,764.4 L384.5,767.3 L385.4,770.2 L386.3,773.0 L387.2,775.9 L388.1,778.8 L389.0,781.6 L390.0,784.5 L390.9,787.3 L391.9,790.2 L392.8,793.1 L393.8,795.9 L394.7,798.7 L395.7,801.6 L396.7,804.4 L397.7,807.3 L398.7,810.1 L399.7,812.9 L400.8,815.7 L401.8,818.6 L402.8,821.4 L403.9,824.2 L404.9,827.0 L406.0,829.8 L407.1,832.6 L408.2,835.4 L409.3,838.2 L410.5,840.9 L411.6,843.7 L412.8,846.5 L413.9,849.2 L415.1,852.0 L416.4,854.7 L417.6,857.4 L418.8,860.2 L420.1,862.9 L421.4,865.6 L422.7,868.3 L424.1,871.0 L425.4,873.6 L426.8,876.3 L428.2,878.9 L429.7,881.6 L431.2,884.2 L432.6,886.8 L434.2,889.4 L435.7,892.0 L437.3,894.6 L438.9,897.1 L440.5,899.7 L442.2,902.2 L443.9,904.7 L445.7,907.2 L447.4,909.7 L449.2,912.2 L451.1,914.7 L453.0,917.1 L454.9,919.5 L456.8,921.9 L458.8,924.2 L460.9,926.5 L463.0,928.7 L465.2,930.8 L467.4,932.8 L469.7,934.8 L472.1,936.5 L474.6,938.2 L477.1,939.7 L479.7,941.0 L482.5,942.2 L485.2,943.2 L488.1,943.9 L491.0,944.5 L493.9,944.8 L496.9,944.9 L499.8,944.8 L502.7,944.4 L505.6,943.8 L508.5,943.0 L511.3,942.1 L514.2,941.0 L516.9,939.7 L519.7,938.3 L522.4,936.8 L525.0,935.3 L527.6,933.6 L530.2,931.9 L532.6,930.2 L535.1,928.4 L537.5,926.6 L539.8,924.7 L542.1,922.8 L544.3,920.8 L546.5,918.8 L548.7,916.7 L550.8,914.7 L552.9,912.5 L555.0,910.4 L557.0,908.2 L559.0,906.0 L561.0,903.8 L563.0,901.6 L564.9,899.3 L566.9,897.0 L568.8,894.7 L570.7,892.4 L572.6,890.1 L574.5,887.7 L576.4,885.4 L578.3,883.1 L580.2,880.7 L582.1,878.3 L584.0,876.0 L585.9,873.6 L587.8,871.3 L589.8,868.9 L591.7,866.6 L593.7,864.3 L595.7,862.0 L597.7,859.7 L599.8,857.4 L601.8,855.2 L603.9,852.9 L606.0,850.7 L608.2,848.6 L610.3,846.4 L612.5,844.3 L614.7,842.2 L616.9,840.2 L619.2,838.2 L621.5,836.3 L623.8,834.4 L626.2,832.5 L628.6,830.7 L631.0,829.0 L633.4,827.3 L635.9,825.7 L638.4,824.1 L641.0,822.6 L643.6,821.2 L646.2,819.8 L648.9,818.5 L651.6,817.3 L654.3,816.2 L657.1,815.1 L659.9,814.1 L662.8,813.2 L665.7,812.3 L668.6,811.5 L671.5,810.7 L674.5,810.0 L677.4,809.3 L680.4,808.6 L683.4,807.9 L686.3,807.2 L689.3,806.5 L692.3,805.7 L695.2,805.0 L698.1,804.2 L701.0,803.3 L703.9,802.4 L706.8,801.5 L709.6,800.5 L712.4,799.4 L715.1,798.2 L717.8,797.0 L720.5,795.7 L723.2,794.4 L725.8,793.0 L728.4,791.5 L731.0,790.1 L733.6,788.5 L736.2,787.0 L738.7,785.4 L741.3,783.8 L743.8,782.2 L746.3,780.5 L748.8,778.8 L751.3,777.1 L753.8,775.5 L756.3,773.8 L758.8,772.1 L761.3,770.4 L763.7,768.7 L766.2,767.0 L768.8,765.3 L771.3,763.7 L773.8,762.0 L776.3,760.4 L778.9,758.9 L781.4,757.3 L784.0,755.8 L786.6,754.2 L789.2,752.7 L791.8,751.3 L794.4,749.8 L797.0,748.4 L799.6,746.9 L802.3,745.6 L804.9,744.2 L807.6,742.8 L810.3,741.5 L813.0,740.1 L815.7,738.8 L818.4,737.5 L821.1,736.3 L823.8,735.0 L826.6,733.8 L829.3,732.5 L832.1,731.3 L834.8,730.1 L837.6,728.9 L840.4,727.7 L843.1,726.5 L845.9,725.3 L848.7,724.1 L851.5,722.9 L854.2,721.6 L857.0,720.4 L859.7,719.2 L862.5,717.9 L865.2,716.7 L867.9,715.4 L870.6,714.1 L873.3,712.7 L876.0,711.4 L878.7,710.0 L881.3,708.6 L883.9,707.1 L886.5,705.7 L889.1,704.2 L891.6,702.6 L894.1,701.0 L896.6,699.4 L899.1,697.7 L901.6,696.0 L904.0,694.3 L906.5,692.6 L908.9,690.8 L911.3,689.0 L913.7,687.2 L916.1,685.4 L918.5,683.6 L920.8,681.7 L923.2,679.9 L925.6,678.0 L928.0,676.2 L930.3,674.3 L932.7,672.5 L935.1,670.6 L937.5,668.8 L939.9,666.9 L942.3,665.1 L944.7,663.3 L947.2,661.5 L949.6,659.7 L952.1,657.9 L954.6,656.2 L957.0,654.5 L959.6,652.8 L962.1,651.1 L964.6,649.4 L967.2,647.8 L969.7,646.2 L972.3,644.7 L974.9,643.1 L977.5,641.6 L980.2,640.2 L982.8,638.7 L985.5,637.3 L988.2,636.0 L990.9,634.6 L993.6,633.4 L996.3,632.1 L999.0,630.9 L1001.8,629.8 L1004.6,628.7 L1007.4,627.6 L1010.2,626.6 L1013.0,625.6 L1015.8,624.7 L1018.7,623.8 L1021.6,623.0 L1024.4,622.2 L1027.3,621.5 L1030.2,620.8 L1033.2,620.1 L1036.1,619.5 L1039.0,618.9 L1042.0,618.3 L1044.9,617.8 L1047.9,617.2 L1050.9,616.8 L1053.8,616.3 L1056.8,615.9 L1059.8,615.4 L1062.8,615.0 L1065.8,614.7 L1068.8,614.3 L1071.7,613.9 L1074.7,613.6 L1077.7,613.2 L1080.7,612.8 L1083.7,612.4 L1086.7,612.0 L1089.7,611.6 L1092.6,611.2 L1095.6,610.7 L1098.6,610.2 L1101.5,609.7 L1104.5,609.1 L1107.4,608.4 L1110.4,607.8 L1113.3,607.0 L1116.2,606.2 L1119.2,605.4 L1122.0,604.4 L1124.9,603.4 L1127.7,602.3 L1130.5,601.2 L1133.2,599.9 L1135.9,598.6 L1138.5,597.1 L1141.1,595.6 L1143.6,594.0 L1146.0,592.3 L1148.3,590.5 L1150.6,588.6 L1152.8,586.7 L1155.1,584.7 L1157.2,582.7 L1159.4,580.6 L1161.5,578.4 L1163.6,576.3 L1165.7,574.1 L1167.7,571.9 L1169.8,569.7 L1171.8,567.4 L1173.9,565.2 L1176.0,562.9 L1178.0,560.7 L1180.1,558.5 L1182.2,556.3 L1184.3,554.1 L1186.5,552.0 L1188.6,549.9 L1190.8,547.9 L1193.1,545.9 L1195.3,544.0 L1197.7,542.1 L1200.1,540.3 L1202.5,538.6 L1205.0,537.0 L1207.5,535.4 L1210.1,533.9 L1212.7,532.5 L1215.4,531.1 L1218.1,529.9 L1220.9,528.7 L1223.6,527.6 L1226.5,526.5 L1229.3,525.5 L1232.2,524.6 L1235.1,523.7 L1238.0,522.9 L1240.9,522.2 L1243.9,521.5 L1246.8,520.9 L1249.8,520.3 L1252.8,519.8 L1255.8,519.4 L1258.8,519.0 L1261.8,518.7 L1264.8,518.4 L1267.8,518.2 L1270.9,518.1 L1273.9,518.0 L1276.9,518.0 L1279.9,518.1 L1282.9,518.2 L1285.9,518.4 L1288.9,518.7 L1291.9,519.0 L1294.9,519.4 L1297.8,519.8 L1300.8,520.4 L1303.7,521.0 L1306.6,521.6 L1309.5,522.4 L1312.3,523.2 L1315.2,524.1 L1318.0,525.0 L1320.8,526.0 L1323.6,527.1 L1326.4,528.2 L1329.2,529.3 L1331.9,530.5 L1334.7,531.8 L1337.4,533.0 L1340.1,534.3 L1342.9,535.6 L1345.6,536.9 L1348.3,538.2 L1351.1,539.5 L1353.8,540.8 L1356.5,542.1 L1359.3,543.4 L1362.1,544.6 L1364.9,545.8 L1367.7,547.0 L1370.5,548.2 L1373.3,549.3 L1376.1,550.3 L1379.0,551.3 L1381.9,552.2 L1384.7,553.0 L1387.6,553.7 L1390.5,554.4 L1393.5,554.9 L1396.4,555.3 L1399.3,555.6 L1402.3,555.8 L1405.2,555.9 L1408.2,555.8 L1411.1,555.6 L1414.1,555.3 L1417.1,554.9 L1420.0,554.4 L1423.0,553.8 L1426.0,553.1 L1428.9,552.4 L1431.8,551.6 L1434.8,550.8 L1437.7,550.0 L1440.6,549.1 L1443.5,548.2 L1446.4,547.3 L1449.3,546.3 L1452.2,545.4 L1455.1,544.5 L1458.0,543.6 L1460.9,542.7 L1463.8,541.9 L1466.7,541.1 L1469.6,540.4 L1472.5,539.7 L1475.4,539.1 L1478.3,538.5 L1481.3,538.0 L1484.2,537.7 L1487.2,537.4 L1490.2,537.1 L1493.2,537.0 L1496.2,536.9 L1499.2,536.9 L1502.2,536.9 L1505.2,537.0 L1508.2,537.1 L1511.2,537.2 L1514.3,537.3 L1517.3,537.5 L1520.3,537.6 L1523.3,537.8 L1526.4,538.0 L1529.4,538.1 L1532.4,538.2 L1535.4,538.3 L1538.4,538.4 L1541.4,538.5 L1544.4,538.5 L1547.4,538.5 L1550.3,538.4 L1553.3,538.4 L1556.3,538.3 L1559.3,538.1 L1562.3,538.0 L1565.2,537.8 L1568.2,537.6 L1571.2,537.3 L1574.2,537.0 L1577.1,536.7 L1580.1,536.3 L1583.1,535.9 L1586.1,535.4 L1589.1,534.9 L1592.1,534.4 L1595.0,533.9 L1598.0,533.4 L1601.0,532.8 L1604.0,532.3 L1607.0,531.7 L1610.0,531.2 L1613.0,530.6 L1616.0,530.1 L1619.0,529.6 L1622.0,529.1 L1624.9,528.7 L1627.9,528.3 L1630.9,528.0 L1633.9,527.7 L1636.9,527.4 L1639.8,527.2 L1642.8,527.1 L1645.8,527.1 L1648.8,527.1 L1651.7,527.2 L1654.7,527.4 L1657.6,527.7 L1660.6,528.0 L1663.5,528.4 L1666.5,528.9 L1669.4,529.4 L1672.3,530.0 L1675.3,530.7 L1678.2,531.4 L1681.1,532.1 L1684.0,532.9 L1686.9,533.8 L1689.8,534.7 L1692.7,535.7 L1695.5,536.7 L1698.4,537.7 L1701.3,538.8 L1704.1,539.8 L1707.0,541.0 L1709.8,542.1 L1712.7,543.2 L1715.5,544.3 L1718.3,545.5 L1721.2,546.6 L1724.0,547.7 L1726.9,548.8 L1729.7,549.9 L1732.5,550.9 L1735.4,551.9 L1738.2,552.8 L1741.1,553.7 L1744.0,554.6 L1746.8,555.4 L1749.7,556.1 L1752.6,556.7 L1755.5,557.3 L1758.4,557.8 L1761.3,558.2 L1764.3,558.5 L1767.2,558.7 L1770.2,558.9 L1773.1,558.9 L1776.1,558.9 L1779.1,558.8 L1782.0,558.6 L1785.0,558.3 L1788.0,557.9 L1790.9,557.5 L1793.9,557.0 L1796.8,556.4 L1799.7,555.7 L1802.7,555.0 L1805.6,554.2 L1808.5,553.3 L1811.4,552.4 L1814.2,551.4 L1817.1,550.3 L1819.9,549.2 L1822.7,548.0 L1825.5,546.8 L1828.3,545.6 L1831.1,544.4 L1833.9,543.1 L1836.7,541.8 L1839.5,540.6 L1842.2,539.3 L1845.0,538.1 L1847.8,536.9 L1850.6,535.7 L1853.4,534.6 L1856.2,533.5 L1859.0,532.5 L1861.8,531.5 L1864.6,530.6 L1867.4,529.8 L1870.3,529.1 L1873.2,528.5 L1876.1,527.9 L1879.0,527.5 L1881.9,527.2 L1884.9,527.0 L1887.8,526.8 L1890.8,526.8 L1893.8,526.8 L1896.8,526.9 L1899.8,527.0 L1902.8,527.2 L1905.9,527.4 L1908.9,527.6 L1911.9,527.9 L1915.0,528.1 L1918.0,528.4 L1921.1,528.7 L1924.1,528.9 L1927.2,529.2 L1930.2,529.4 L1933.2,529.6 L1936.3,529.7 L1939.3,529.8 L1942.3,530.0 L1945.4,530.0 L1948.4,530.1 L1951.4,530.2 L1954.4,530.3 L1957.4,530.3 L1960.4,530.4 L1963.4,530.5 L1966.4,530.6 L1969.4,530.7 L1972.4,530.8 L1975.3,531.0 L1978.3,531.1 L1981.3,531.3 L1984.2,531.5 L1987.2,531.8 L1990.2,532.1 L1993.1,532.4 L1996.1,532.8 L1999.0,533.3 L2001.9,533.7 L2004.8,534.3 L2007.8,534.9 L2010.7,535.6 L2013.6,536.3 L2016.5,537.1 L2019.4,538.0 L2022.3,539.0 L2025.2,540.0 L2028.1,541.1 L2030.9,542.3 L2033.8,543.6" stroke="#ff0000" stroke-width="7" stroke-linejoin="miter" stroke-dasharray="34.39 11.90 9.50 11.90" stroke-dashoffset="1.49"/>
</g>
<rect x="1529.3" y="88" width="448.8" height="224" fill="#fff" stroke="#262626" stroke-width="4"/>
<g fill="none">
<path d="M1544.7,130.5H1714" stroke="#000" stroke-width="7.2" stroke-dasharray="6.4 10.6"/>
<path d="M1544.7,200.4H1716" stroke="#0000ff" stroke-width="7.2"/>
<path d="M1544.7,270.7H1716" stroke="#ff0000" stroke-width="7.2" stroke-dasharray="35 12 9.2 12.2"/>
</g>
<g fill="#000" font-family="'Liberation Sans', Arial, Helvetica, sans-serif" font-size="50.7px">
<text x="1728.2" y="152">No control</text><text x="1728.2" y="220.3">OGCHC</text><text x="1728.2" y="291.5">OC</text>
</g>
</svg>
</body></html>
